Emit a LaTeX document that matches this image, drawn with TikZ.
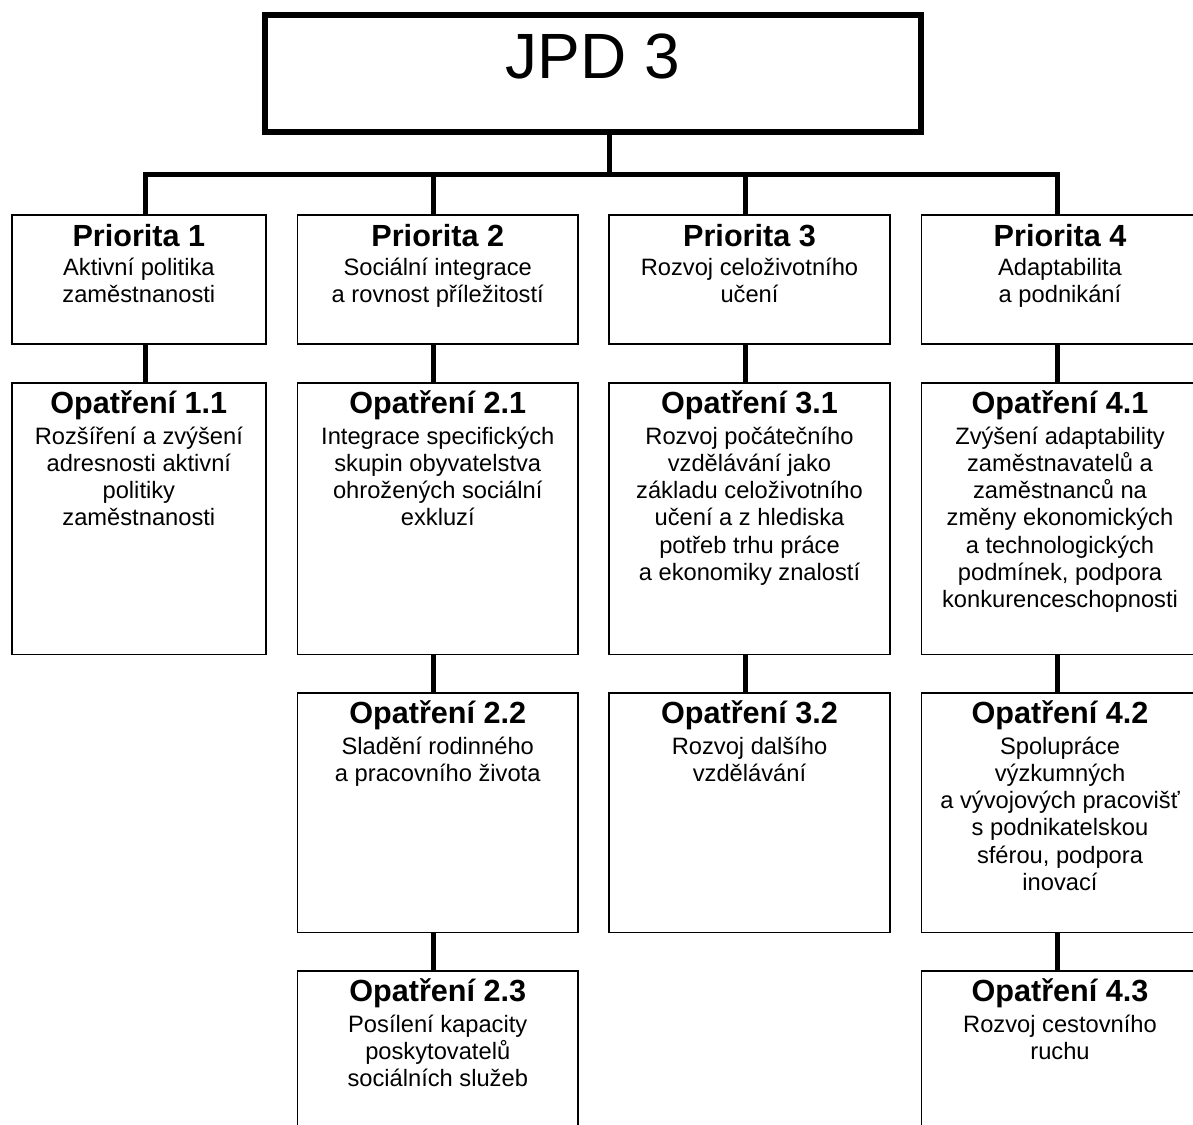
\documentclass[tikz,border=0pt]{standalone}
\usepackage{fontspec}
\setmainfont{Liberation Sans}
\usetikzlibrary{calc}
\newcommand\mybody[1]{\parbox[t]{276pt}{\centering\fontsize{23.7}{27.3}\selectfont #1}}
\tikzset{
  box/.style={draw, line width=1.6pt, rectangle, inner sep=0pt, outer sep=0pt, anchor=north west},
  topbox/.style={draw, line width=6pt, rectangle, inner sep=0pt, outer sep=0pt, anchor=north west},
  conn/.style={line width=5pt},
  head/.style={anchor=base, inner sep=0pt, font=\fontsize{30.6}{34}\selectfont\bfseries},
  body/.style={anchor=base, inner sep=0pt},
  title/.style={anchor=base, inner sep=0pt, font=\fontsize{64}{70}\selectfont},
}
\begin{document}
\begin{tikzpicture}[x=1pt,y=-1pt]
\useasboundingbox (0,0) rectangle (1193,1124);
\clip (0,0) rectangle (1193,1124);

% top box
\node[topbox, minimum width=656pt, minimum height=117pt] (top) at (265,15) {};
\node[title] (titletext) at ($(top.north)+(0,63.3)$) {JPD 3};

% priority boxes
\node[box, minimum width=254.3pt, minimum height=129pt] (P1) at (11.7,215) {};
\node[box, minimum width=280.5pt, minimum height=129pt] (P2) at (297.5,215) {};
\node[box, minimum width=281pt, minimum height=129pt] (P3) at (609,215) {};
\node[box, minimum width=277pt, minimum height=129pt] (P4) at (921.5,215) {};

% measure boxes row 1
\node[box, minimum width=254.3pt, minimum height=271.5pt] (O11) at (11.7,383) {};
\node[box, minimum width=280.5pt, minimum height=271.5pt] (O21) at (297.5,383) {};
\node[box, minimum width=281pt, minimum height=271.5pt] (O31) at (609,383) {};
\node[box, minimum width=277pt, minimum height=271.5pt] (O41) at (921.5,383) {};

% row 2
\node[box, minimum width=280.5pt, minimum height=239.5pt] (O22) at (297.5,693) {};
\node[box, minimum width=281pt, minimum height=239.5pt] (O32) at (609,693) {};
\node[box, minimum width=277pt, minimum height=239.5pt] (O42) at (921.5,693) {};

% row 3
\node[box, minimum width=280.5pt, minimum height=239.5pt] (O23) at (297.5,971) {};
\node[box, minimum width=277pt, minimum height=239.5pt] (O43) at (921.5,971) {};

% texts
\node[head] (P1h) at ($(P1.north)+(0,31)$) {Priorita 1};
\node[body] (P1b) at ($(P1.north)+(0,60.5)$) {\mybody{Aktivní politika\\zaměstnanosti}};
\node[head] (P2h) at ($(P2.north)+(0,31)$) {Priorita 2};
\node[body] (P2b) at ($(P2.north)+(0,60.5)$) {\mybody{Sociální integrace\\a rovnost příležitostí}};
\node[head] (P3h) at ($(P3.north)+(0,31)$) {Priorita 3};
\node[body] (P3b) at ($(P3.north)+(0,60.5)$) {\mybody{Rozvoj celoživotního\\učení}};
\node[head] (P4h) at ($(P4.north)+(0,31)$) {Priorita 4};
\node[body] (P4b) at ($(P4.north)+(0,60.5)$) {\mybody{Adaptabilita\\a podnikání}};

\node[head] (O11h) at ($(O11.north)+(0,30.5)$) {Opatření 1.1};
\node[body] (O11b) at ($(O11.north)+(0,61)$) {\mybody{Rozšíření a zvýšení\\adresnosti aktivní\\politiky\\zaměstnanosti}};
\node[head] (O21h) at ($(O21.north)+(0,30.5)$) {Opatření 2.1};
\node[body] (O21b) at ($(O21.north)+(0,61)$) {\mybody{Integrace specifických\\skupin obyvatelstva\\ohrožených sociální\\exkluzí}};
\node[head] (O31h) at ($(O31.north)+(0,30.5)$) {Opatření 3.1};
\node[body] (O31b) at ($(O31.north)+(0,61)$) {\mybody{Rozvoj počátečního\\vzdělávání jako\\základu celoživotního\\učení a z hlediska\\potřeb trhu práce\\a ekonomiky znalostí}};
\node[head] (O41h) at ($(O41.north)+(0,30.5)$) {Opatření 4.1};
\node[body] (O41b) at ($(O41.north)+(0,61)$) {\mybody{Zvýšení adaptability\\zaměstnavatelů a\\zaměstnanců na\\změny ekonomických\\a technologických\\podmínek, podpora\\konkurenceschopnosti}};

\node[head] (O22h) at ($(O22.north)+(0,30.5)$) {Opatření 2.2};
\node[body] (O22b) at ($(O22.north)+(0,61)$) {\mybody{Sladění rodinného\\a pracovního života}};
\node[head] (O32h) at ($(O32.north)+(0,30.5)$) {Opatření 3.2};
\node[body] (O32b) at ($(O32.north)+(0,61)$) {\mybody{Rozvoj dalšího\\vzdělávání}};
\node[head] (O42h) at ($(O42.north)+(0,30.5)$) {Opatření 4.2};
\node[body] (O42b) at ($(O42.north)+(0,61)$) {\mybody{Spolupráce\\výzkumných\\a vývojových pracovišť\\s podnikatelskou\\sférou, podpora\\inovací}};

\node[head] (O23h) at ($(O23.north)+(0,30.5)$) {Opatření 2.3};
\node[body] (O23b) at ($(O23.north)+(0,61)$) {\mybody{Posílení kapacity\\poskytovatelů\\sociálních služeb}};
\node[head] (O43h) at ($(O43.north)+(0,30.5)$) {Opatření 4.3};
\node[body] (O43b) at ($(O43.north)+(0,61)$) {\mybody{Rozvoj cestovního\\ruchu}};

% connectors
\coordinate (c1) at (145.3,174.7);
\coordinate (c2) at (433.7,174.7);
\coordinate (c3) at (745.7,174.7);
\coordinate (c4) at (1057.8,174.7);
\coordinate (cm) at (609,174.7);

\draw[conn] (top.south -| cm) -- (cm);
\draw[conn] (P1.north -| c1) -- (c1) -- (c4) -- (P4.north -| c4);
\draw[conn] (c2) -- (P2.north -| c2);
\draw[conn] (c3) -- (P3.north -| c3);

\draw[conn] (P1.south -| c1) -- (O11.north -| c1);
\draw[conn] (P2.south -| c2) -- (O21.north -| c2);
\draw[conn] (O21.south -| c2) -- (O22.north -| c2);
\draw[conn] (O22.south -| c2) -- (O23.north -| c2);
\draw[conn] (P3.south -| c3) -- (O31.north -| c3);
\draw[conn] (O31.south -| c3) -- (O32.north -| c3);
\draw[conn] (P4.south -| c4) -- (O41.north -| c4);
\draw[conn] (O41.south -| c4) -- (O42.north -| c4);
\draw[conn] (O42.south -| c4) -- (O43.north -| c4);
\end{tikzpicture}
\end{document}
